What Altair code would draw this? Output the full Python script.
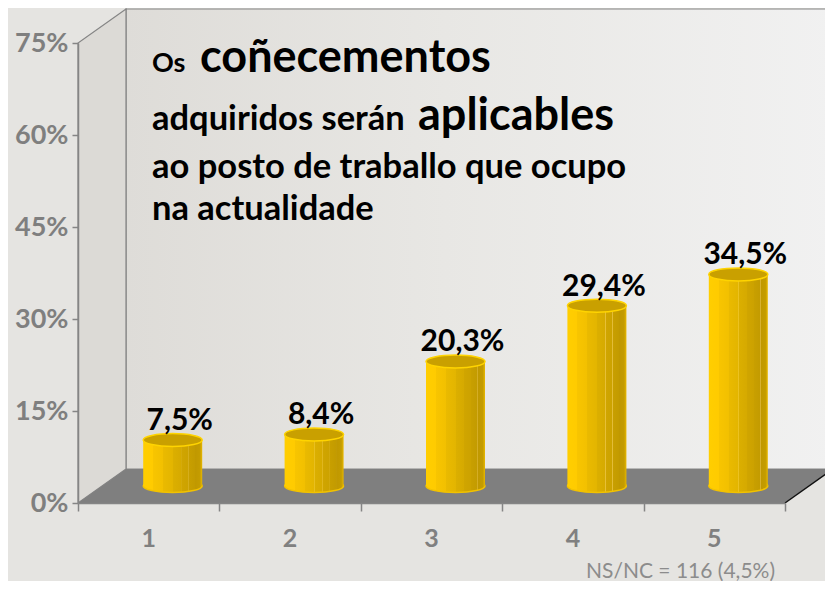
import altair as alt
import pandas as pd

# ---------------- data ----------------
categories = [1, 2, 3, 4, 5]
values = [7.5, 8.4, 20.3, 29.4, 34.5]
value_labels = ["7,5%", "8,4%", "20,3%", "29,4%", "34,5%"]
y_ticks = [0, 15, 30, 45, 60, 75]
x_ticks = [0.5, 1.5, 2.5, 3.5, 4.5, 5.5]
title_small_1 = "Os"
title_big_1 = "coñecementos"
title_small_2 = "adquiridos serán"
title_big_2 = "aplicables"
title_line_3 = "ao posto de traballo que ocupo"
title_line_4 = "na actualidade"
note_text = "NS/NC = 116 (4,5%)"

# ---------------- geometry / style ----------------
W, H = 707, 460
XMIN, XMAX = 0.5, 5.5
YMAX = 75
DEPTH_X, DEPTH_Y = 48, 34
dxu = DEPTH_X * (XMAX - XMIN) / W
dyu = DEPTH_Y * YMAX / H
BAR_W = 59
half_u = BAR_W / 2 * (XMAX - XMIN) / W
OFF_X, OFF_Y = DEPTH_X / 2, -DEPTH_Y / 2
GRAY = "#858585"
FONT = "Lato"

xs = alt.Scale(domain=[XMIN, XMAX], nice=False, zero=False)
ys = alt.Scale(domain=[0, YMAX], nice=False, zero=True)
xaxis = alt.Axis(values=x_ticks, labels=False, tickSize=8, tickColor=GRAY, tickWidth=1.5,
                 domainColor=GRAY, domainWidth=1.5, title=None, grid=False, zindex=1)
yaxis = alt.Axis(values=y_ticks, labelExpr="datum.value + '%'", title=None, grid=False,
                 tickSize=6, tickColor=GRAY, tickWidth=1.5, domainColor=GRAY, domainWidth=1.5,
                 labelFont=FONT, labelFontWeight="bold", labelFontSize=27, labelColor="#7F7F7F",
                 labelPadding=4, zindex=1)


def X(f):
    return alt.X(f, scale=xs, axis=xaxis)


def Y(f):
    return alt.Y(f, scale=ys, axis=yaxis)


bars = pd.DataFrame({
    "cat": categories,
    "value": values,
    "label": value_labels,
    "x1": [c - half_u for c in categories],
    "x2": [c + half_u for c in categories],
    "zero": [0] * len(categories),
})

# back wall
wall_df = pd.DataFrame({"x": [XMIN + dxu], "x2": [XMAX + dxu], "y": [dyu], "y2": [YMAX + dyu]})
wall_grad = alt.LinearGradient(gradient="linear", x1=0, y1=0, x2=1, y2=0, stops=[
    alt.GradientStop(color="#DEDCD8", offset=0),
    alt.GradientStop(color="#E8E7E4", offset=0.45),
    alt.GradientStop(color="#F1F1F1", offset=1),
])
wall = alt.Chart(wall_df).mark_rect(fill=wall_grad, stroke=GRAY, strokeWidth=1.2).encode(
    x=X("x:Q"), x2="x2:Q", y=Y("y:Q"), y2="y2:Q")

# side wall
side_df = pd.DataFrame({"x": [XMIN, XMIN + dxu], "y": [0, dyu], "y2": [YMAX, YMAX + dyu]})
side = alt.Chart(side_df).mark_area(fill="#DCDAD6", stroke=GRAY, strokeWidth=1.2).encode(
    x=X("x:Q"), y=Y("y:Q"), y2="y2:Q")

# floor
floor_df = pd.DataFrame({
    "x": [XMIN, XMIN + dxu, XMAX, XMAX + dxu],
    "y": [0, 0, 0, dyu],
    "y2": [0, dyu, dyu, dyu],
})
floor = alt.Chart(floor_df).mark_area(fill="#7F7F7F").encode(
    x=X("x:Q"), y=Y("y:Q"), y2="y2:Q")

edge_df = pd.DataFrame({"x": [XMAX], "x2": [XMAX + dxu], "y": [0], "y2": [dyu]})
edge = alt.Chart(edge_df).mark_rule(color="#111111", strokeWidth=1.5).encode(
    x=X("x:Q"), x2="x2:Q", y=Y("y:Q"), y2="y2:Q")

# cylinders
K = 0.22
C = 0.552 * K
ellipse = (f"M-1,0 C-1,{-C} -0.552,{-K} 0,{-K} C0.552,{-K} 1,{-C} 1,0 "
           f"C1,{C} 0.552,{K} 0,{K} C-0.552,{K} -1,{C} -1,0 Z")

body_stops = [
    ("#FFCE00", 0.00), ("#FFCB00", 0.17), ("#F8C500", 0.17), ("#F2C000", 0.34),
    ("#EABA00", 0.34), ("#E3B500", 0.50), ("#F0C830", 0.505), ("#DBAF00", 0.51),
    ("#D6AA00", 0.64), ("#EBC440", 0.645), ("#D0A500", 0.65), ("#CCA200", 0.76),
    ("#E6C040", 0.765), ("#C89F00", 0.77), ("#C39B00", 0.87), ("#E0BA40", 0.875),
    ("#C09800", 0.88), ("#C49C00", 0.96), ("#E8B800", 1.0),
]
body_grad = alt.LinearGradient(gradient="linear", x1=0, y1=0, x2=1, y2=0,
                               stops=[alt.GradientStop(color=c, offset=o) for c, o in body_stops])

base = alt.Chart(bars)
bottom_ell = base.mark_point(shape=ellipse, size=BAR_W ** 2, filled=True, fill=body_grad,
                             stroke="#F2C200", strokeWidth=1.5, opacity=1,
                             xOffset=OFF_X, yOffset=OFF_Y).encode(x=X("cat:Q"), y=Y("zero:Q"))
body = base.mark_rect(fill=body_grad, xOffset=OFF_X, x2Offset=OFF_X,
                      yOffset=OFF_Y, y2Offset=OFF_Y).encode(
    x=X("x1:Q"), x2="x2:Q", y=Y("value:Q"), y2="zero:Q")
top_ell = base.mark_point(shape=ellipse, size=BAR_W ** 2, filled=True, fill="#C9A000",
                          stroke="#FFD400", strokeWidth=1.5, opacity=1,
                          xOffset=OFF_X, yOffset=OFF_Y).encode(x=X("cat:Q"), y=Y("value:Q"))

vlabels = base.mark_text(font=FONT, fontWeight="bold", fontSize=30, color="#000000",
                         baseline="alphabetic", align="center",
                         xOffset=OFF_X + 7, yOffset=OFF_Y - 10).encode(
    x=X("cat:Q"), y=Y("value:Q"), text="label:N")

xlabels = base.mark_text(font=FONT, fontWeight="bold", fontSize=25, color="#808080",
                         baseline="middle", align="center").encode(
    x=X("cat:Q"), y=alt.value(H + 36), text="cat:N")


def txt(s, px, py, size, weight="bold", color="#000000", align="left"):
    return alt.Chart(pd.DataFrame({"t": [s]})).mark_text(
        font=FONT, fontWeight=weight, fontSize=size, color=color,
        align=align, baseline="alphabetic").encode(
        text="t:N", x=alt.value(px), y=alt.value(py))


SMALL, BIG = 34.5, 45
titles = [
    txt(title_small_1, 74, 29, 27),
    txt(title_big_1, 122, 29, BIG),
    txt(title_small_2, 74, 87, SMALL),
    txt(title_big_2, 340, 87, BIG),
    txt(title_line_3, 74, 135, SMALL),
    txt(title_line_4, 74, 177, SMALL),
    txt(note_text, 697, 535, 21, weight="normal", color="#8C8C8C", align="right"),
]

chart = alt.layer(wall, side, floor, edge, bottom_ell, body, top_ell, vlabels, xlabels, *titles).properties(
    width=W, height=H,
    padding={"left": 70, "top": 35, "right": 40, "bottom": 78},
    autosize=alt.AutoSizeParams(type="none"),
    background="#E5E4E1",
).configure_view(stroke=None)

chart.save("out.html", embed_options={"renderer": "svg", "actions": False})
